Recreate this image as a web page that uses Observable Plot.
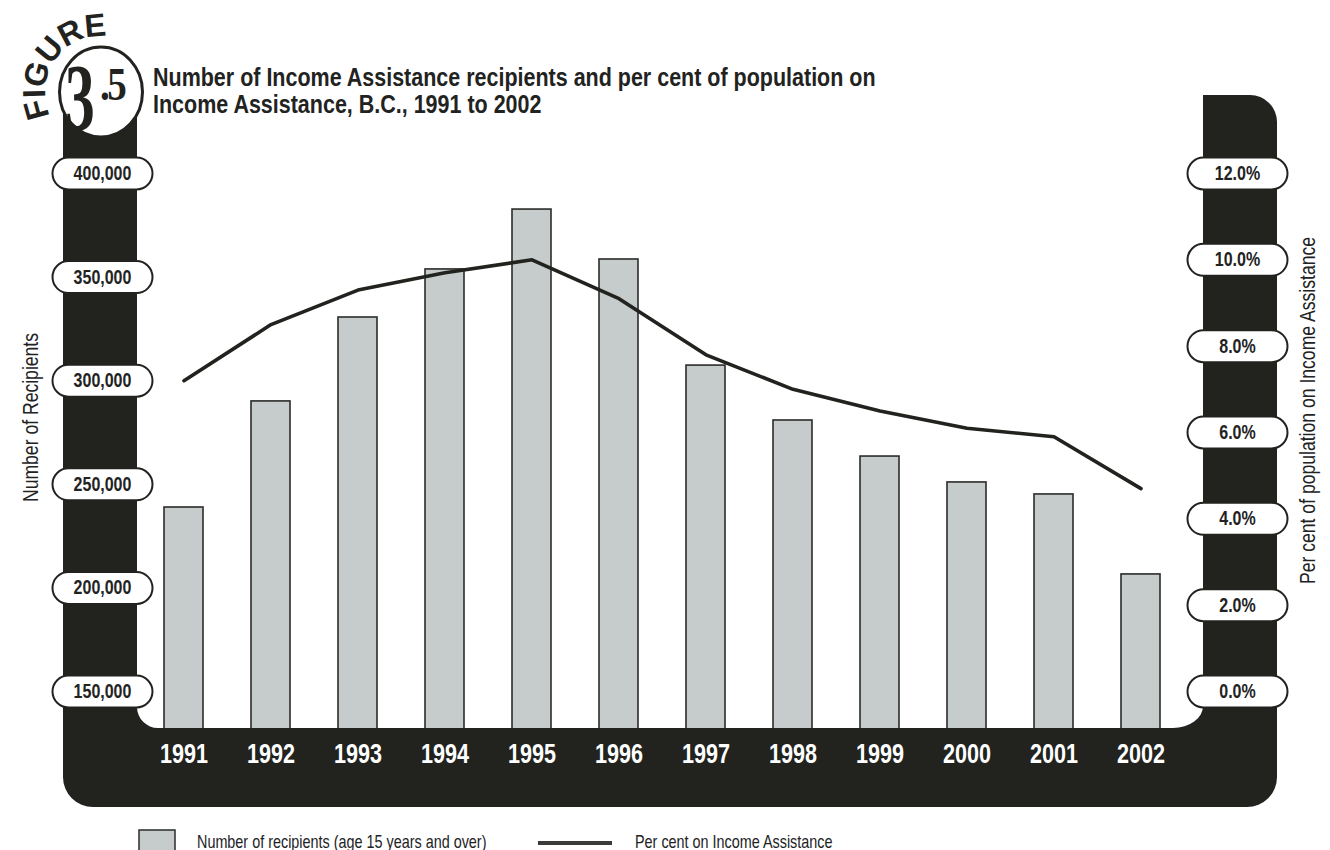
<!DOCTYPE html>
<html>
<head>
<meta charset="utf-8">
<script src="https://cdn.jsdelivr.net/npm/d3@7"></script>
<script src="https://cdn.jsdelivr.net/npm/@observablehq/plot@0.6"></script>
<style>
  html, body { margin: 0; padding: 0; background: #fff; }
  #chart { width: 1330px; height: 850px; }
</style>
</head>
<body>
<div id="chart"></div>
<script>
// ---------------- data ----------------
const years = ["1991","1992","1993","1994","1995","1996","1997","1998","1999","2000","2001","2002"];
const recipients = [238800, 290000, 330500, 353700, 382600, 358500, 307300, 280800, 263400, 250900, 245100, 206500];
const percentOnIA = [7.2, 8.5, 9.3, 9.7, 10.0, 9.1, 7.8, 7.0, 6.5, 6.1, 5.9, 4.7];
const recipientTicks = [150000, 200000, 250000, 300000, 350000, 400000];
const percentTicks = [0, 2, 4, 6, 8, 10, 12];

const titleLines = [
  "Number of Income Assistance recipients and per cent of population on",
  "Income Assistance, B.C., 1991 to 2002"
];
const leftAxisTitle = "Number of Recipients";
const rightAxisTitle = "Per cent of population on Income Assistance";
const legendBarLabel = "Number of recipients (age 15 years and over)";
const legendLineLabel = "Per cent on Income Assistance";
const badgeWord = "FIGURE";
const badgeMajor = "3";
const badgeMinor = ".5";

// ---------------- style ----------------
const INK = "#22231f";
const BAR_FILL = "#c6cccb";
const BAR_EDGE = "#2b2c29";
const SANS = "'Liberation Sans', Arial, sans-serif";
const SERIF = "'Liberation Serif', 'DejaVu Serif', serif";
const CONDENSE = 0.8; // horizontal squeeze to mimic a condensed face

// percent axis shares tick positions with recipients axis (0% ↔ 150,000, 12% ↔ 400,000)
const pctToRec = d3.scaleLinear().domain(d3.extent(percentTicks)).range(d3.extent(recipientTicks));

const rows = years.map((year, i) => ({year, recipients: recipients[i], pct: percentOnIA[i]}));

// pill-shaped symbol for tick labels
const pill = {
  draw(ctx) {
    const w = 50, h = 16;
    ctx.moveTo(-w + h, -h);
    ctx.lineTo(w - h, -h);
    ctx.arc(w - h, 0, h, -Math.PI / 2, Math.PI / 2);
    ctx.lineTo(-w + h, h);
    ctx.arc(-w + h, 0, h, Math.PI / 2, 3 * Math.PI / 2);
    ctx.closePath();
  }
};

// black U-shaped frame
function frameMark() {
  return d3.create("svg:path")
    .attr("fill", INK)
    .attr("d", "M63,100 H137 V707 A21,21 0 0 0 158,728 H1173 A30,22 0 0 0 1203,706 V95 H1250 A27,27 0 0 1 1277,122 V777 A30,30 0 0 1 1247,807 H93 A30,30 0 0 1 63,777 Z")
    .node();
}

// badge, title and legend
function decorMark() {
  const g = d3.create("svg:g").attr("text-anchor", "start");
  const cx = 101, cy = 92;
  g.append("ellipse").attr("cx", cx).attr("cy", cy).attr("rx", 41.5).attr("ry", 45)
    .attr("fill", "#fff").attr("stroke", INK).attr("stroke-width", 3);
  const r = 56, a0 = 148 * Math.PI / 180, a1 = 282 * Math.PI / 180;
  g.append("path").attr("id", "figArc").attr("fill", "none")
    .attr("d", `M${cx + r * Math.cos(a0)},${cy + r * Math.sin(a0)} A${r},${r} 0 0 1 ${cx + r * Math.cos(a1)},${cy + r * Math.sin(a1)}`);
  g.append("text").attr("class", "nocondense").attr("font-family", SANS).attr("font-weight", "bold").attr("font-size", 32)
    .attr("fill", INK).attr("letter-spacing", -0.5)
    .append("textPath").attr("href", "#figArc").attr("startOffset", "50%").attr("text-anchor", "middle")
    .text(badgeWord);
  g.append("text").attr("class", "nocondense").attr("transform", "translate(80,130) scale(0.62,1)").attr("text-anchor", "middle")
    .attr("font-family", SERIF).attr("font-weight", "bold").attr("font-size", 96).attr("fill", INK).text(badgeMajor);
  g.append("text").attr("class", "nocondense").attr("transform", "translate(100,100) scale(0.85,1)")
    .attr("font-family", SERIF).attr("font-weight", "bold").attr("font-size", 46).attr("letter-spacing", -3)
    .attr("fill", INK).text(badgeMinor);

  titleLines.forEach((t, i) => {
    g.append("text").attr("data-squeeze", 0.86).attr("transform", `translate(153,${86 + i * 27})`)
      .attr("font-family", SANS).attr("font-weight", "bold").attr("font-size", 25)
      .attr("fill", INK).text(t);
  });

  g.append("rect").attr("x", 139).attr("y", 830).attr("width", 36).attr("height", 36)
    .attr("fill", BAR_FILL).attr("stroke", BAR_EDGE).attr("stroke-width", 1.5);
  g.append("text").attr("transform", "translate(197,848)").attr("font-family", SANS).attr("font-size", 18)
    .attr("fill", INK).text(legendBarLabel);
  g.append("line").attr("x1", 538).attr("x2", 612).attr("y1", 843).attr("y2", 843)
    .attr("stroke", "#3b3c38").attr("stroke-width", 4);
  g.append("text").attr("transform", "translate(635,848)").attr("font-family", SANS).attr("font-size", 18)
    .attr("fill", INK).text(legendLineLabel);
  return g.node();
}

const chart = Plot.plot({
  width: 1330,
  height: 850,
  marginLeft: 112,
  marginRight: 118,
  marginTop: 100,
  marginBottom: 122,
  style: {fontFamily: SANS, background: "#fff", color: INK, overflow: "visible"},
  x: {type: "band", domain: years, padding: 0.55, axis: null},
  y: {domain: d3.extent(recipientTicks), range: [691, 173], axis: null},
  marks: [
    Plot.barY(rows, {x: "year", y: "recipients", fill: BAR_FILL, stroke: BAR_EDGE, strokeWidth: 1.6, clip: true}),
    frameMark,
    Plot.line(rows, {x: "year", y: d => pctToRec(d.pct), stroke: INK, strokeWidth: 3.6}),
    Plot.dot(recipientTicks, {y: d => d, frameAnchor: "left", dx: -10, symbol: pill, fill: "#fff", stroke: INK, strokeWidth: 2}),
    Plot.text(recipientTicks, {y: d => d, frameAnchor: "left", dx: -10, textAnchor: "middle", text: d3.format(","), fontSize: 20, fontWeight: "bold", fill: INK}),
    Plot.dot(percentTicks, {y: d => pctToRec(d), frameAnchor: "right", dx: 25, symbol: pill, fill: "#fff", stroke: INK, strokeWidth: 2}),
    Plot.text(percentTicks, {y: d => pctToRec(d), frameAnchor: "right", dx: 25, textAnchor: "middle", text: d => d.toFixed(1) + "%", fontSize: 20, fontWeight: "bold", fill: INK}),
    Plot.axisX({tickSize: 0, tickPadding: 15, fontSize: 27, fontWeight: "bold", fill: "white", color: "white", label: null}),
    Plot.text([leftAxisTitle], {frameAnchor: "left", dx: -82, dy: 3, rotate: -90, textAnchor: "middle", fontSize: 22, fill: INK}),
    Plot.text([rightAxisTitle], {frameAnchor: "right", dx: 95, dy: -4, rotate: -90, textAnchor: "middle", fontSize: 22, fill: INK}),
    decorMark
  ]
});

// squeeze every ordinary text horizontally around its anchor (condensed look)
chart.querySelectorAll("text").forEach(t => {
  if (t.classList.contains("nocondense")) return;
  const k = t.getAttribute("data-squeeze") || CONDENSE;
  const tr = t.getAttribute("transform") || "";
  t.setAttribute("transform", `${tr} scale(${k},1)`);
});

document.getElementById("chart").appendChild(chart);
</script>
</body>
</html>
